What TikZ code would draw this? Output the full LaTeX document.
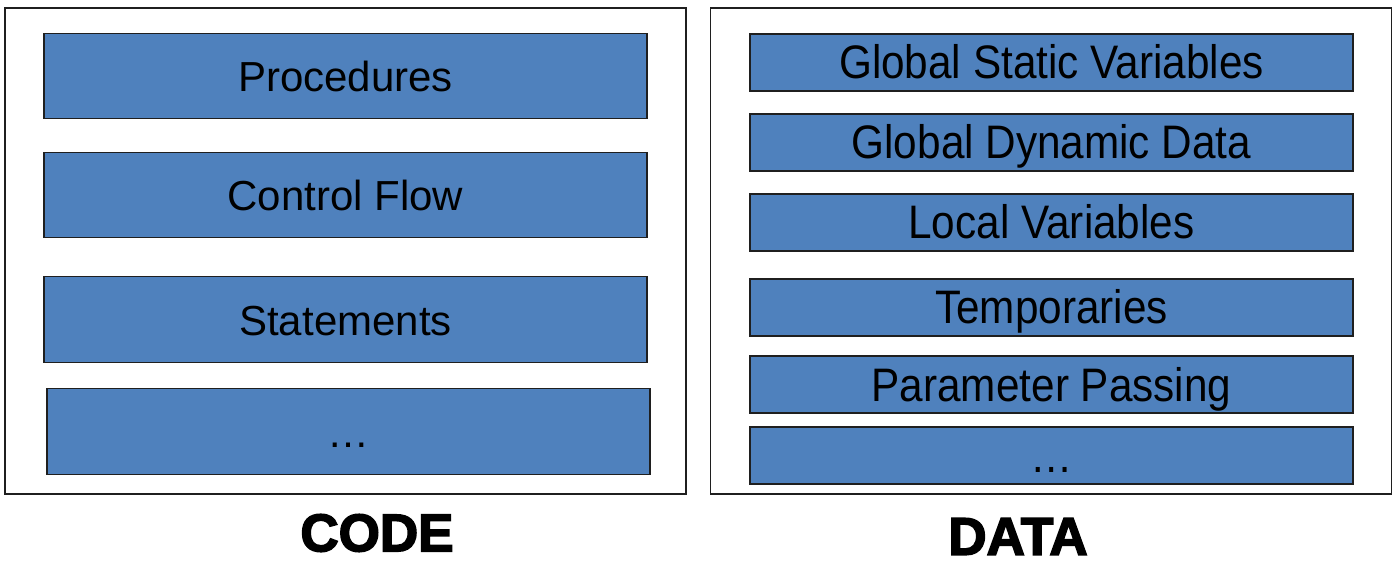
\documentclass[tikz,border=0pt]{standalone}
\usepackage{fontspec}
\setmainfont{Liberation Sans}
\newfontfamily\condfont[FakeStretch=0.9]{Liberation Sans}
\newfontfamily\heavyfont[FakeBold=3]{Liberation Sans Bold}
\definecolor{layerblue}{HTML}{4F81BD}
\definecolor{edgedark}{HTML}{1F1F1F}
\begin{document}
\begin{tikzpicture}[x=1pt,y=-1pt,
  panel/.style={draw=edgedark,line width=1.3pt,fill=white,minimum width=681pt,minimum height=486pt,inner sep=0pt},
  codelayer/.style={draw=edgedark,line width=1.3pt,fill=layerblue,minimum width=603pt,minimum height=85.5pt,inner sep=0pt,
    font=\fontsize{42}{50}\selectfont,text height=32pt,text depth=0pt},
  datalayer/.style={draw=edgedark,line width=1.3pt,fill=layerblue,minimum width=603pt,minimum height=57pt,inner sep=0pt,
    font=\condfont\fontsize{47}{55}\selectfont,text height=33pt,text depth=0pt},
  caption/.style={font=\heavyfont\fontsize{53}{60}\selectfont,inner sep=0pt}]
\useasboundingbox (0,0) rectangle (1398,561);
% panels
\node[panel] (codepanel) at (345.5,251) {};
\node[panel] (datapanel) at (1051,251) {};
% code layers
\node[codelayer] (proc) at (345.5,76) {Procedures};
\node[codelayer] (ctrl) at (345.5,195) {Control Flow};
\node[codelayer] (stmt) at (345.5,319.5) {Statements};
\node[codelayer] (cmore) at (348.5,431.5) {\ldots};
% data layers
\node[datalayer] (gsv) at (1051.5,62.5) {Global Static Variables};
\node[datalayer] (gdd) at (1051.5,142.5) {Global Dynamic Data};
\node[datalayer] (lv) at (1051.5,222.5) {Local Variables};
\node[datalayer] (tmp) at (1051.5,307.5) {Temporaries};
\node[datalayer] (pp) at (1051.5,384.5) {Parameter Passing};
\node[datalayer] (dmore) at (1051.5,455.5) {\ldots};
% captions
\node[caption] (codelbl) at (377,533) {CODE};
\node[caption] (datalbl) at (1018,536.5) {DATA};
\end{tikzpicture}
\end{document}
